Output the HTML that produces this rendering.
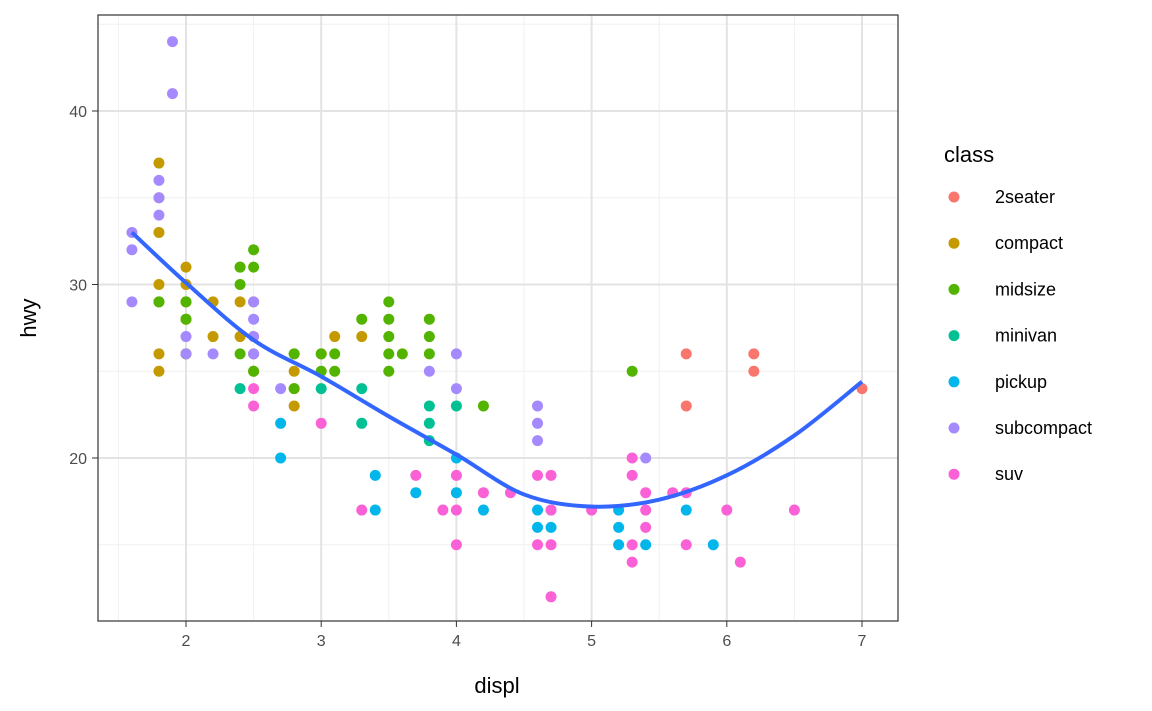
<!DOCTYPE html>
<html><head><meta charset="utf-8"><style>body{margin:0;background:#fff}svg{display:block;font-family:"Liberation Sans",Arial,sans-serif}</style></head>
<body>
<svg id="s" width="1152" height="711" viewBox="0 0 1152 711" xmlns="http://www.w3.org/2000/svg"></svg>
<script>
const s=document.getElementById('s');
const X=d=>186+(d-2)*135.2, Y=h=>458-(h-20)*17.35;
let o='<rect width="1152" height="711" fill="#fff"/>';
// minor grid
[1.5,2.5,3.5,4.5,5.5,6.5].forEach(v=>o+=`<line x1="${X(v)}" x2="${X(v)}" y1="15" y2="621" stroke="#f0f0f0" stroke-width="1"/>`);
[15,25,35,45].forEach(v=>o+=`<line y1="${Y(v)}" y2="${Y(v)}" x1="98" x2="898" stroke="#f0f0f0" stroke-width="1"/>`);
[2,3,4,5,6,7].forEach(v=>o+=`<line x1="${X(v)}" x2="${X(v)}" y1="15" y2="621" stroke="#e3e3e3" stroke-width="2"/>`);
[20,30,40].forEach(v=>o+=`<line y1="${Y(v)}" y2="${Y(v)}" x1="98" x2="898" stroke="#e3e3e3" stroke-width="2"/>`);
const C={a:"#F8766D",b:"#C49A00",c:"#53B400",d:"#00C094",e:"#00B6EB",f:"#A58AFF",g:"#FB61D7"};
const P={
a:[[5.7,26],[5.7,23],[6.2,26],[6.2,25],[7,24]],
b:[[1.8,37],[1.8,35],[1.8,33],[1.8,30],[1.8,29],[1.8,26],[1.8,25],[2,31],[2,30],[2,29],[2,28],[2,26],[2.2,29],[2.2,27],[2.4,31],[2.4,29],[2.4,27],[2.5,29],[2.5,27],[2.5,26],[2.5,25],[2.8,26],[2.8,25],[2.8,24],[2.8,23],[3,26],[3.1,27],[3.3,27]],
c:[[1.8,29],[2,29],[2,28],[2,26],[2.4,31],[2.4,30],[2.4,26],[2.5,32],[2.5,31],[2.5,25],[2.8,26],[2.8,24],[3,26],[3,25],[3.1,26],[3.1,25],[3.3,28],[3.5,29],[3.5,28],[3.5,27],[3.5,26],[3.5,25],[3.6,26],[3.8,28],[3.8,27],[3.8,26],[4.2,23],[5.3,25]],
d:[[2.4,24],[3,24],[3.3,24],[3.3,22],[3.8,23],[3.8,22],[3.8,21],[4,23]],
e:[[2.7,22],[2.7,20],[3.4,19],[3.4,17],[3.7,18],[4,20],[4,18],[4.2,17],[4.6,17],[4.6,16],[4.7,17],[4.7,16],[5.2,17],[5.2,16],[5.2,15],[5.4,15],[5.7,17],[5.9,15]],
f:[[1.6,33],[1.6,32],[1.6,29],[1.8,36],[1.8,35],[1.8,34],[1.9,44],[1.9,41],[2,27],[2,26],[2.2,26],[2.5,29],[2.5,28],[2.5,27],[2.5,26],[2.7,24],[3.8,25],[4,26],[4,24],[4.6,23],[4.6,22],[4.6,21],[5.4,20]],
g:[[2.5,24],[2.5,23],[3,22],[3.3,17],[3.7,19],[3.9,17],[4,19],[4,17],[4,15],[4.2,18],[4.4,18],[4.6,19],[4.6,15],[4.7,19],[4.7,17],[4.7,15],[4.7,12],[5,17],[5.3,20],[5.3,19],[5.3,15],[5.3,14],[5.4,18],[5.4,17],[5.4,16],[5.6,18],[5.7,18],[5.7,15],[6,17],[6.1,14],[6.5,17]]};
for(const k in P)P[k].forEach(p=>o+=`<circle cx="${X(p[0])}" cy="${Y(p[1])}" r="5.5" fill="${C[k]}"/>`);
const L=[[1.6,33],[2,30.1],[2.5,26.8],[3,24.7],[3.5,22.4],[4,20.2],[4.5,17.9],[5,17.2],[5.5,17.6],[6,19],[6.5,21.3],[7,24.4]];
let d='M'+X(L[0][0])+','+Y(L[0][1]);
for(let i=1;i<L.length;i++){const p0=L[Math.max(i-2,0)],p1=L[i-1],p2=L[i],p3=L[Math.min(i+1,L.length-1)];
d+=` C${X(p1[0]+(p2[0]-p0[0])/6)},${Y(p1[1]+(p2[1]-p0[1])/6)} ${X(p2[0]-(p3[0]-p1[0])/6)},${Y(p2[1]-(p3[1]-p1[1])/6)} ${X(p2[0])},${Y(p2[1])}`;}
o+=`<path d="${d}" fill="none" stroke="#3366FF" stroke-width="4"/>`;
o+=`<rect x="98" y="15" width="800" height="606" fill="none" stroke="#333" stroke-width="1.2"/>`;
[2,3,4,5,6,7].forEach(v=>o+=`<line x1="${X(v)}" x2="${X(v)}" y1="621" y2="627" stroke="#333"/><text x="${X(v)}" y="646" font-size="16" fill="#4d4d4d" text-anchor="middle">${v}</text>`);
[20,30,40].forEach(v=>o+=`<line x1="92" x2="98" y1="${Y(v)}" y2="${Y(v)}" stroke="#333"/><text x="87" y="${Y(v)+6}" font-size="16" fill="#4d4d4d" text-anchor="end">${v}</text>`);
o+=`<text x="497" y="693" font-size="22" text-anchor="middle">displ</text>`;
o+=`<text transform="translate(36,318) rotate(-90)" font-size="22" text-anchor="middle">hwy</text>`;
o+=`<text x="944" y="162" font-size="22">class</text>`;
const N=["2seater","compact","midsize","minivan","pickup","subcompact","suv"];
Object.keys(C).forEach((k,i)=>{const y=197+i*46.2;o+=`<circle cx="954" cy="${y}" r="5.5" fill="${C[k]}"/><text x="995" y="${y+6}" font-size="18">${N[i]}</text>`;});
s.innerHTML=o;
</script>
</body></html>
